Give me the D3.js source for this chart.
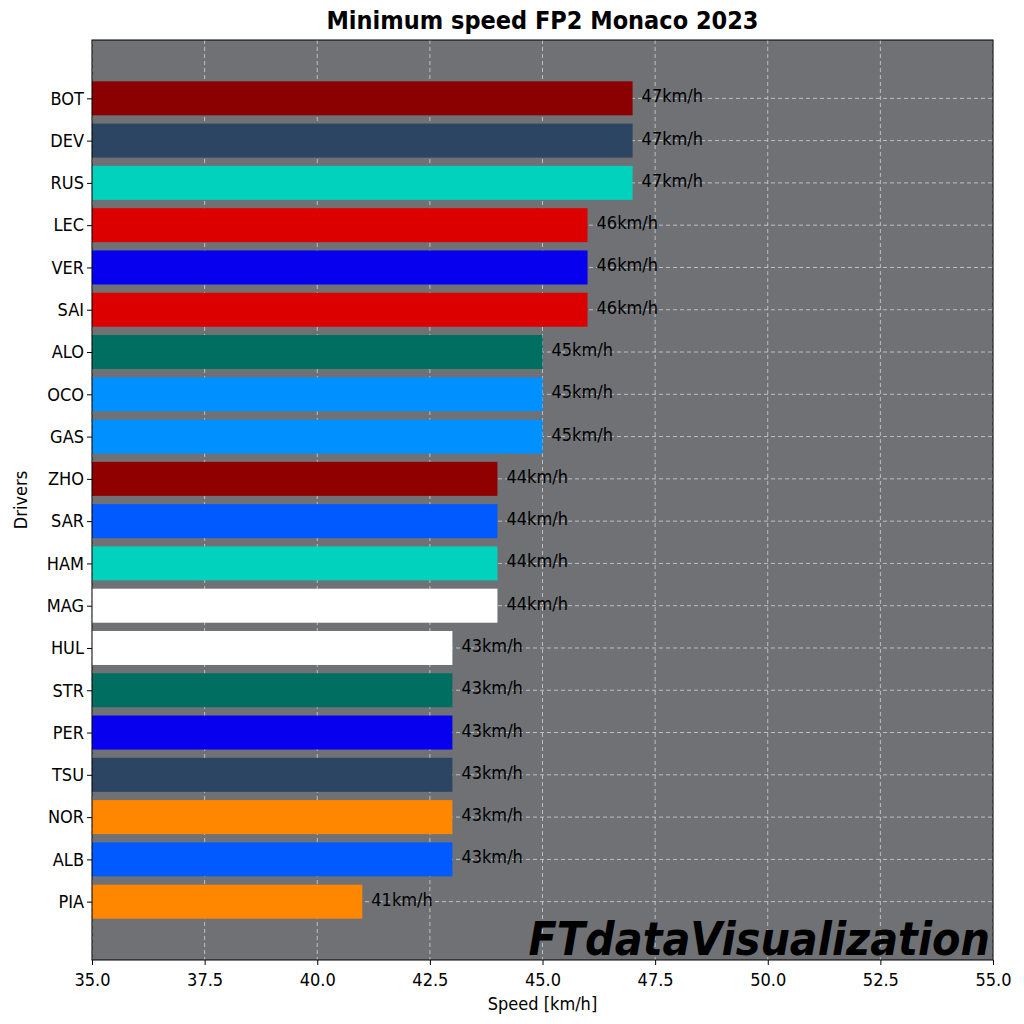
<!DOCTYPE html>
<html><head><meta charset="utf-8">
<script src="https://cdn.jsdelivr.net/npm/d3@7"></script>
<style>body{margin:0;background:#fff;font-family:"DejaVu Sans Condensed","DejaVu Sans",sans-serif;}</style>
</head><body>
<script>
const drivers = ["BOT","DEV","RUS","LEC","VER","SAI","ALO","OCO","GAS","ZHO","SAR","HAM","MAG","HUL","STR","PER","TSU","NOR","ALB","PIA"];
const speeds = [47,47,47,46,46,46,45,45,45,44,44,44,44,43,43,43,43,43,43,41];
const colors = ["#8b0000","#2b4562","#00d2be","#dc0000","#0600ef","#dc0000","#006f62","#0090ff","#0090ff","#900000","#005aff","#00d2be","#ffffff","#ffffff","#006f62","#0600ef","#2b4562","#ff8700","#005aff","#ff8700"];
const xTicks = [35,37.5,40,42.5,45,47.5,50,52.5,55];

const W = 1024, H = 1024, L = 92, R = 993, T = 40, B = 960;
const FONT = '"DejaVu Sans Condensed","DejaVu Sans",sans-serif';
const svg = d3.select("body").append("svg").attr("width", W).attr("height", H).attr("font-family", FONT);
const x = d3.scaleLinear().domain([35,55]).range([L,R]);
const y = d3.scaleLinear().domain([-1.38, drivers.length - 1 + 1.38]).range([T,B]);
const bh = 34;

svg.append("rect").attr("x",L).attr("y",T).attr("width",R-L).attr("height",B-T).attr("fill","#6f7175");

const grid = svg.append("g").attr("stroke","#c8c8c8").attr("stroke-dasharray","4,3").attr("stroke-width",0.9);
grid.selectAll(".vx").data(xTicks).join("line").attr("x1",d=>x(d)).attr("x2",d=>x(d)).attr("y1",T).attr("y2",B);
grid.selectAll(".hy").data(drivers).join("line").attr("x1",L).attr("x2",R).attr("y1",(d,i)=>y(i)).attr("y2",(d,i)=>y(i));

svg.selectAll(".bar").data(speeds).join("rect")
  .attr("x",x(35)).attr("y",(d,i)=>y(i)-bh/2).attr("width",d=>x(d)-x(35)).attr("height",bh)
  .attr("fill",(d,i)=>colors[i]);

svg.selectAll(".lbl").data(speeds).join("text")
  .attr("x",d=>x(d)+9).attr("y",(d,i)=>y(i)+4).attr("font-size",18).attr("fill","#000")
  .text(d=>d+"km/h");

svg.append("rect").attr("x",L).attr("y",T).attr("width",R-L).attr("height",B-T).attr("fill","none").attr("stroke","#000");

const xa = svg.append("g").attr("transform",`translate(0,${B})`)
  .call(d3.axisBottom(x).tickValues(xTicks).tickFormat(d3.format(".1f")).tickSizeOuter(0).tickSize(5));
xa.selectAll("text").attr("font-size",18).attr("fill","#000").attr("font-family",FONT).attr("dy","1em");
xa.select(".domain").remove();
const ya = svg.append("g").attr("transform",`translate(${L},0)`)
  .call(d3.axisLeft(y).tickValues(d3.range(drivers.length)).tickFormat(i=>drivers[i]).tickSizeOuter(0).tickSize(5));
ya.selectAll("text").attr("font-size",18).attr("fill","#000").attr("font-family",FONT);
ya.select(".domain").remove();

svg.append("text").attr("x",(L+R)/2).attr("y",1010).attr("text-anchor","middle").attr("font-size",18).text("Speed [km/h]");
svg.append("text").attr("transform",`translate(27,${(T+B)/2}) rotate(-90)`).attr("text-anchor","middle").attr("font-size",18).text("Drivers");
svg.append("text").attr("x",(L+R)/2).attr("y",29).attr("text-anchor","middle").attr("font-size",25).attr("font-weight","bold").text("Minimum speed FP2 Monaco 2023");
svg.append("text").attr("x",R-3).attr("y",955).attr("text-anchor","end").attr("font-size",46).attr("font-weight","bold").attr("font-style","italic").attr("fill","#000").text("FTdataVisualization");
</script>
</body></html>
